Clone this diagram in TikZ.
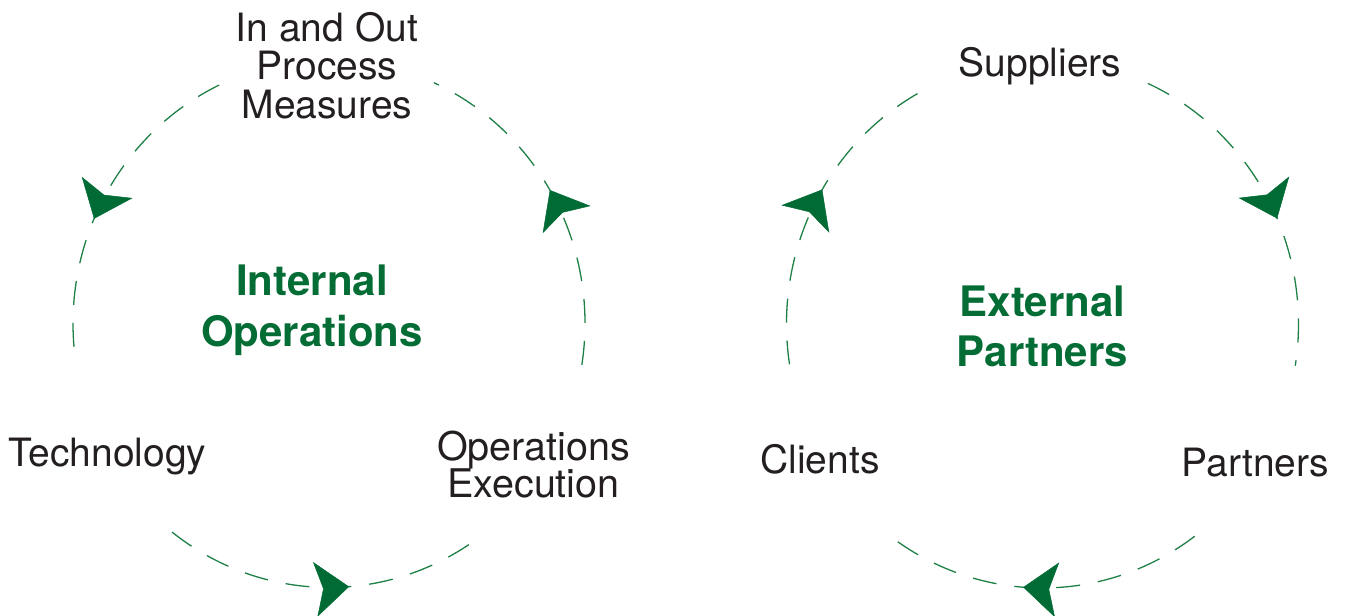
\documentclass[tikz,border=0pt]{standalone}
\usepackage{fontspec}
\setmainfont{TeX Gyre Heros}
\usetikzlibrary{arrows.meta,decorations.markings}
\definecolor{dashgreen}{HTML}{1E8045}
\definecolor{tipgreen}{HTML}{006B35}
\definecolor{labelgreen}{HTML}{046C35}
\definecolor{labelgray}{HTML}{231F20}
\newcommand{\mytightlines}{\lineskiplimit=-100pt\relax\lineskip=0pt\relax}
\begin{document}
\begin{tikzpicture}[x=1pt,y=1pt,
  flow/.style={draw=dashgreen, line width=1.3pt, dash pattern=on 24pt off 18pt},
  tipat/.style={postaction={decorate}, decoration={markings, mark=at position #1 with {\arrow[tipgreen, line width=0.5pt]{Stealth[length=34pt,width=55pt,inset=8pt]}}}},
  lbl/.style={inner sep=0pt, text=labelgray, font=\fontsize{39}{38.5}\selectfont\mytightlines, align=center},
  title/.style={inner sep=0pt, text=labelgreen, font=\bfseries\fontsize{42}{51}\selectfont, align=center}]
\useasboundingbox (0,0) rectangle (1345,616);
\coordinate (L) at (329,292.5);
\coordinate (R) at (1042.5,292);
% left cycle (counterclockwise)
\draw[flow, tipat=0.56] (L) ++(115.4:256 and 264) arc[start angle=115.4, end angle=188.6, x radius=256, y radius=264];
\draw[flow, tipat=0.57] (L) ++(232.2:256 and 264) arc[start angle=232.2, end angle=306.4, x radius=256, y radius=264];
\draw[flow, tipat=0.53] (L) ++(-9:256 and 264) arc[start angle=-9, end angle=65.8, x radius=256, y radius=264];
% right cycle (clockwise)
\draw[flow, tipat=0.56] (R) ++(65.7:256 and 264) arc[start angle=65.7, end angle=-9.1, x radius=256, y radius=264];
\draw[flow, tipat=0.55] (R) ++(-53.5:256 and 264) arc[start angle=-53.5, end angle=-127.7, x radius=256, y radius=264];
\draw[flow, tipat=0.54] (R) ++(188.8:256 and 264) arc[start angle=188.8, end angle=115.3, x radius=256, y radius=264];
% labels
\node[lbl, anchor=north] (measures) at (327,604) {In and Out\\Process\\Measures};
\node[lbl, anchor=base] (tech) at (107.5,149) {Technology};
\node[lbl, anchor=north, font=\fontsize{39.5}{37}\selectfont\mytightlines] (exec) at (533.5,185) {Operations\\Execution};
\node[lbl, anchor=base] (supp) at (1040,539) {Suppliers};
\node[lbl, anchor=base] (clients) at (820,142) {Clients};
\node[lbl, anchor=base] (partners) at (1255.5,139) {Partners};
\node[title, anchor=north] (internal) at (312,351) {Internal\\Operations};
\node[title, anchor=north, font=\bfseries\fontsize{42}{50}\selectfont] (external) at (1042.5,330) {External\\Partners};
\end{tikzpicture}
\end{document}
